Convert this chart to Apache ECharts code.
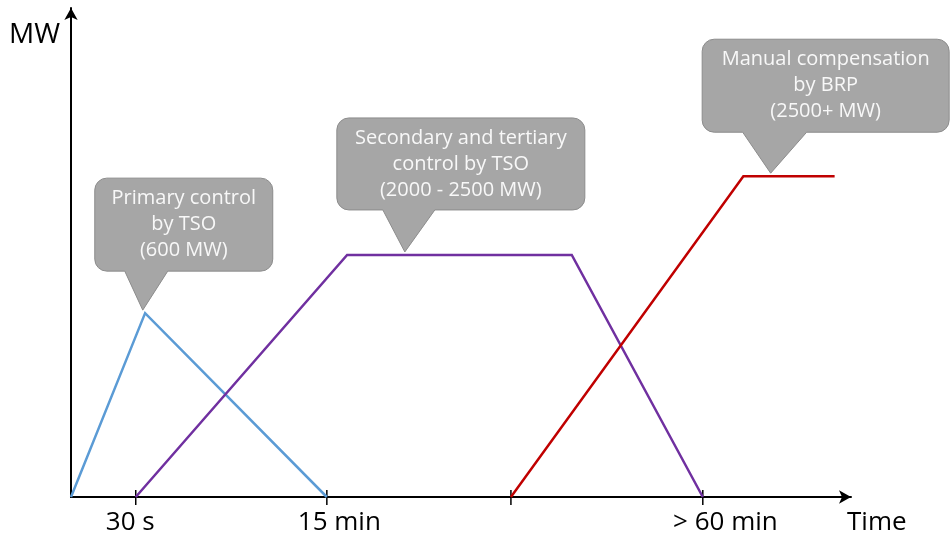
<!DOCTYPE html>
<html>
<head>
<meta charset="utf-8">
<script src="https://cdn.jsdelivr.net/npm/echarts@6/dist/echarts.min.js"></script>
<style>
  html, body { margin: 0; padding: 0; background: #fff; }
  #chart { width: 952px; height: 536px; }
</style>
</head>
<body>
<div id="chart"></div>
<script>
// Activation profiles of balancing reserves, on an abstract time axis (0-100)
// and an abstract power axis (0-100).
const primaryLine   = [[0, 0], [9.5, 37.6], [32.8, 0]];
const secondaryLine = [[8.3, 0], [35.4, 49.5], [64.2, 49.5], [81.0, 0]];
const manualLine    = [[56.4, 0], [86.2, 65.6], [97.9, 65.6]];

// Tick marks on the time axis and where each time label sits
const timeTicks   = [8.3, 32.8, 56.4, 81.0];
const timeLabelAt = [7.6, 34.4, 83.9];
const timeLabels  = ['30 s', '15 min', '> 60 min'];

// Callouts: text and the point each pointer rests on
const calloutTexts = [
  'Primary control\nby TSO\n(600 MW)',
  'Secondary and tertiary\ncontrol by TSO\n(2000 - 2500 MW)',
  'Manual compensation\nby BRP\n(2500+ MW)'
];
const calloutAnchors = [[9.2, 37.6], [42.8, 49.5], [89.7, 65.6]];

// Callout box geometry in pixels, relative to the pointer tip
const calloutBoxes = [
  { w: 178, h: 93, dx: 41, lift: 39, baseL: -18, baseR: 25 },
  { w: 248, h: 92, dx: 56, lift: 42, baseL: -22, baseR: 30 },
  { w: 247, h: 93, dx: 55, lift: 41, baseL: -28, baseR: 36 }
];

const FONT = '"Open Sans", "Noto Sans", sans-serif';

function calloutPath(tx, ty, b) {
  const r = 12;
  const bottom = ty - b.lift, top = bottom - b.h;
  const left = tx + b.dx - b.w / 2, right = left + b.w;
  return [
    'M', left + r, top,
    'L', right - r, top,
    'A', r, r, 0, 0, 1, right, top + r,
    'L', right, bottom - r,
    'A', r, r, 0, 0, 1, right - r, bottom,
    'L', tx + b.baseR, bottom,
    'L', tx, ty,
    'L', tx + b.baseL, bottom,
    'L', left + r, bottom,
    'A', r, r, 0, 0, 1, left, bottom - r,
    'L', left, top + r,
    'A', r, r, 0, 0, 1, left + r, top,
    'Z'
  ].join(' ');
}

const chart = echarts.init(document.getElementById('chart'));

const lineSeries = (data, color) => ({
  type: 'line',
  data: data,
  symbol: 'none',
  silent: true,
  z: 2,
  lineStyle: { color: color, width: 2.5, join: 'miter' }
});

chart.setOption({
  animation: false,
  grid: { left: 71, right: 101, top: 8, bottom: 39 },
  xAxis: {
    type: 'value', min: 0, max: 100,
    name: 'Time', nameLocation: 'end', nameGap: -4,
    nameTextStyle: {
      color: '#000', fontSize: 26, fontFamily: FONT,
      align: 'left', verticalAlign: 'top', padding: [13, 0, 0, 0]
    },
    splitLine: { show: false },
    axisLine: {
      show: true, symbol: ['none', 'arrow'], symbolSize: [10, 12],
      lineStyle: { color: '#000', width: 2 }
    },
    axisTick: { show: false },
    axisLabel: {
      show: true, customValues: timeLabelAt, margin: 13,
      color: '#000', fontSize: 26, fontFamily: FONT,
      formatter: v => {
        const i = timeLabelAt.findIndex(p => Math.abs(p - v) < 1e-6);
        return i >= 0 ? timeLabels[i] : '';
      }
    }
  },
  yAxis: {
    type: 'value', min: 0, max: 100,
    name: 'MW', nameLocation: 'end', nameGap: -13,
    nameTextStyle: {
      color: '#000', fontSize: 28, fontFamily: FONT,
      align: 'right', verticalAlign: 'top', padding: [0, 11, 0, 0]
    },
    splitLine: { show: false },
    axisLine: {
      show: true, symbol: ['none', 'arrow'], symbolSize: [10, 12],
      lineStyle: { color: '#000', width: 2 }
    },
    axisTick: { show: false },
    axisLabel: { show: false }
  },
  series: [
    {
      // tick marks crossing the time axis
      type: 'custom',
      coordinateSystem: 'cartesian2d',
      clip: false,
      silent: true,
      z: 1,
      data: timeTicks.map(t => [t, 0]),
      renderItem: (params, api) => {
        const p = api.coord([api.value(0), 0]);
        return {
          type: 'line',
          shape: { x1: p[0], y1: p[1] - 7, x2: p[0], y2: p[1] + 8 },
          style: { stroke: '#000', lineWidth: 1.5 }
        };
      }
    },
    lineSeries(primaryLine, '#5B9BD5'),
    lineSeries(secondaryLine, '#7030A0'),
    lineSeries(manualLine, '#C00000'),
    {
      type: 'custom',
      coordinateSystem: 'cartesian2d',
      clip: false,
      silent: true,
      z: 5,
      data: calloutAnchors,
      renderItem: (params, api) => {
        const i = params.dataIndex;
        const p = api.coord([api.value(0), api.value(1)]);
        const tx = p[0], ty = p[1] - 3;
        const b = calloutBoxes[i];
        const bottom = ty - b.lift;
        const cx = tx + b.dx, cy = bottom - b.h / 2;
        return {
          type: 'group',
          children: [
            {
              type: 'path',
              shape: { pathData: calloutPath(tx, ty, b) },
              style: { fill: '#A6A6A6', stroke: '#8C8C8C', lineWidth: 1 }
            },
            {
              type: 'text',
              x: cx, y: cy,
              style: {
                text: calloutTexts[i],
                align: 'center', verticalAlign: 'middle',
                fill: '#F8F8F8', fontSize: 20, fontFamily: FONT,
                lineHeight: 26
              }
            }
          ]
        };
      }
    }
  ]
});
</script>
</body>
</html>
